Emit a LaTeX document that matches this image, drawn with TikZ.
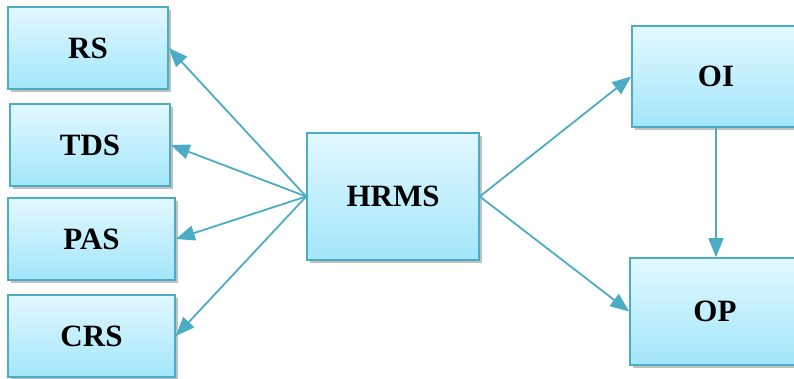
\documentclass[tikz,border=0pt]{standalone}
\usepackage{fontspec}
\setmainfont{Liberation Serif}
\usetikzlibrary{arrows.meta,shadows}
\definecolor{boxedge}{HTML}{4BACC6}
\definecolor{boxtop}{HTML}{E2F8FF}
\definecolor{boxbottom}{HTML}{A2E6FA}
\tikzset{
  box/.style={draw=boxedge, line width=1.6pt, rectangle,
    top color=boxtop, bottom color=boxbottom,
    drop shadow={shadow xshift=2.5pt, shadow yshift=-3pt, opacity=0.45, fill=black!55},
    font=\fontsize{31}{37}\selectfont\bfseries, inner sep=0pt},
  link/.style={draw=boxedge, line width=1.8pt,
    -{Triangle[length=19pt,width=15pt]}},
}
\begin{document}
\begin{tikzpicture}[x=1pt,y=-1pt]
  \useasboundingbox (0,0) rectangle (794,379);
  % left column
  \node[box, minimum width=160pt, minimum height=82pt] (rs)  at (88,48)    {RS};
  \node[box, minimum width=160pt, minimum height=82pt] (tds) at (90,145)   {TDS};
  \node[box, minimum width=167pt, minimum height=82pt] (pas) at (91.5,239) {PAS};
  \node[box, minimum width=167pt, minimum height=82pt] (crs) at (91.5,336) {CRS};
  % centre
  \node[box, minimum width=172pt, minimum height=127pt] (hrms) at (393,196.5) {HRMS};
  % right column
  \node[box, minimum width=168pt, minimum height=101pt] (oi) at (716,76.5)  {OI};
  \node[box, minimum width=170pt, minimum height=107pt] (op) at (715,311.5) {OP};
  % connectors
  \draw[link] (hrms.west) -- (rs.east);
  \draw[link] (hrms.west) -- (tds.east);
  \draw[link] (hrms.west) -- (pas.east);
  \draw[link] (hrms.west) -- (crs.east);
  \draw[link] (hrms.east) -- (oi.west);
  \draw[link] (hrms.east) -- (op.west);
  \draw[link] (oi.south) -- (oi.south |- op.north);
\end{tikzpicture}
\end{document}
